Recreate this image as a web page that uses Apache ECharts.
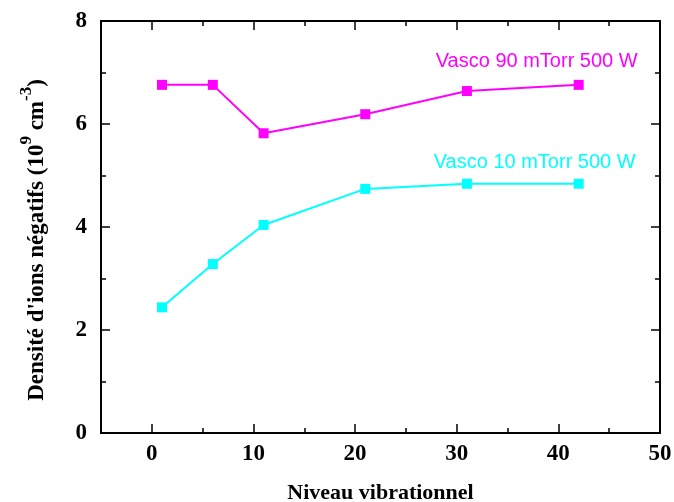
<!DOCTYPE html>
<html>
<head>
<meta charset="utf-8">
<script src="https://cdn.jsdelivr.net/npm/echarts@6/dist/echarts.min.js"></script>
<style>
html,body{margin:0;padding:0;background:#fff;}
#chart{width:674px;height:502px;}
</style>
</head>
<body>
<div id="chart"></div>
<script>
// Data
const niveaux = [1, 6, 11, 21, 31, 42];
const vasco90 = [6.76, 6.76, 5.82, 6.19, 6.64, 6.76];
const vasco10 = [2.44, 3.28, 4.04, 4.74, 4.84, 4.84];
const seriesNames = ['Vasco 90 mTorr 500 W', 'Vasco 10 mTorr 500 W'];
const xMajorTicks = [0, 10, 20, 30, 40, 50];
const xMinorTicks = [5, 15, 25, 35, 45];
const xTitle = 'Niveau vibrationnel';

const serif = "'Liberation Serif', 'DejaVu Serif', serif";
const sans = "'Liberation Sans', Arial, sans-serif";

function pairs(xs, ys) { return xs.map((x, i) => [x, ys[i]]); }

function withEndLabel(data, text, color, offset) {
  const d = data.map(p => ({ value: p }));
  d[d.length - 1].label = {
    show: true, formatter: text, position: 'inside', offset: offset,
    color: color, fontFamily: sans, fontSize: 20
  };
  return d;
}

const chart = echarts.init(document.getElementById('chart'), null, { renderer: 'canvas' });

const baseX = { type: 'value', min: -5, max: 50, gridIndex: 0, splitLine: { show: false } };
const lineStyle = { color: '#000', width: 2 };

const option = {
  animation: false,
  backgroundColor: '#fff',
  grid: { left: 101, right: 14, top: 21, bottom: 69, containLabel: false, outerBoundsMode: 'none' },
  xAxis: [
    Object.assign({}, baseX, {
      position: 'bottom',
      axisLine: { show: true, onZero: false, lineStyle: lineStyle },
      axisTick: { show: true, inside: true, length: 9, customValues: xMajorTicks, lineStyle: { color: '#000', width: 1.5 } },
      axisLabel: { show: true, customValues: xMajorTicks, margin: 10, color: '#000', fontFamily: serif, fontWeight: 'bold', fontSize: 23 },
      name: xTitle, nameLocation: 'middle', nameGap: 49,
      nameTextStyle: { color: '#000', fontFamily: serif, fontWeight: 'bold', fontSize: 22 }
    }),
    Object.assign({}, baseX, {
      position: 'bottom',
      axisLine: { show: false, onZero: false },
      axisTick: { show: true, inside: true, length: 5, customValues: xMinorTicks, lineStyle: { color: '#000', width: 1.5 } },
      axisLabel: { show: false }
    }),
    Object.assign({}, baseX, {
      position: 'top',
      axisLine: { show: true, onZero: false, lineStyle: lineStyle },
      axisTick: { show: true, inside: true, length: 9, customValues: xMajorTicks, lineStyle: { color: '#000', width: 1.5 } },
      axisLabel: { show: false }
    }),
    Object.assign({}, baseX, {
      position: 'top',
      axisLine: { show: false, onZero: false },
      axisTick: { show: true, inside: true, length: 5, customValues: xMinorTicks, lineStyle: { color: '#000', width: 1.5 } },
      axisLabel: { show: false }
    })
  ],
  yAxis: [
    {
      type: 'value', min: 0, max: 8, interval: 2, position: 'left',
      splitLine: { show: false },
      axisLine: { show: true, onZero: false, lineStyle: lineStyle },
      axisTick: { show: true, inside: true, length: 9, lineStyle: { color: '#000', width: 1.5 } },
      minorTick: { show: true, splitNumber: 2, length: 5, lineStyle: { color: '#000', width: 1.5 } },
      axisLabel: { margin: 14, color: '#000', fontFamily: serif, fontWeight: 'bold', fontSize: 23 },
      name: '{m|Densité d\'ions négatifs (10}{s|9}{m| cm}{s|-3}{m|)}',
      nameLocation: 'middle', nameRotate: 90, nameGap: 52,
      nameTextStyle: {
        color: '#000', fontFamily: serif, fontWeight: 'bold', fontSize: 23,
        padding: [0, 26, 0, 0],
        rich: {
          m: { fontFamily: serif, fontWeight: 'bold', fontSize: 23, lineHeight: 31, verticalAlign: 'bottom', color: '#000' },
          s: { fontFamily: serif, fontWeight: 'bold', fontSize: 17, lineHeight: 31, verticalAlign: 'top', color: '#000' }
        }
      }
    },
    {
      type: 'value', min: 0, max: 8, interval: 2, position: 'right',
      splitLine: { show: false },
      axisLine: { show: true, onZero: false, lineStyle: lineStyle },
      axisTick: { show: true, inside: true, length: 9, lineStyle: { color: '#000', width: 1.5 } },
      minorTick: { show: true, splitNumber: 2, length: 5, lineStyle: { color: '#000', width: 1.5 } },
      axisLabel: { show: false }
    }
  ],
  series: [
    {
      name: seriesNames[0], type: 'line', xAxisIndex: 0, yAxisIndex: 0,
      data: withEndLabel(pairs(niveaux, vasco90), seriesNames[0], '#ff00ff', [-42, -23]),
      symbol: 'rect', symbolSize: 10,
      lineStyle: { color: '#ff00ff', width: 2 },
      itemStyle: { color: '#ff00ff' }
    },
    {
      name: seriesNames[1], type: 'line', xAxisIndex: 0, yAxisIndex: 0,
      data: withEndLabel(pairs(niveaux, vasco10), seriesNames[1], '#00ffff', [-44, -21]),
      symbol: 'rect', symbolSize: 10,
      lineStyle: { color: '#00ffff', width: 2 },
      itemStyle: { color: '#00ffff' }
    }
  ]
};
chart.setOption(option);
</script>
</body>
</html>
